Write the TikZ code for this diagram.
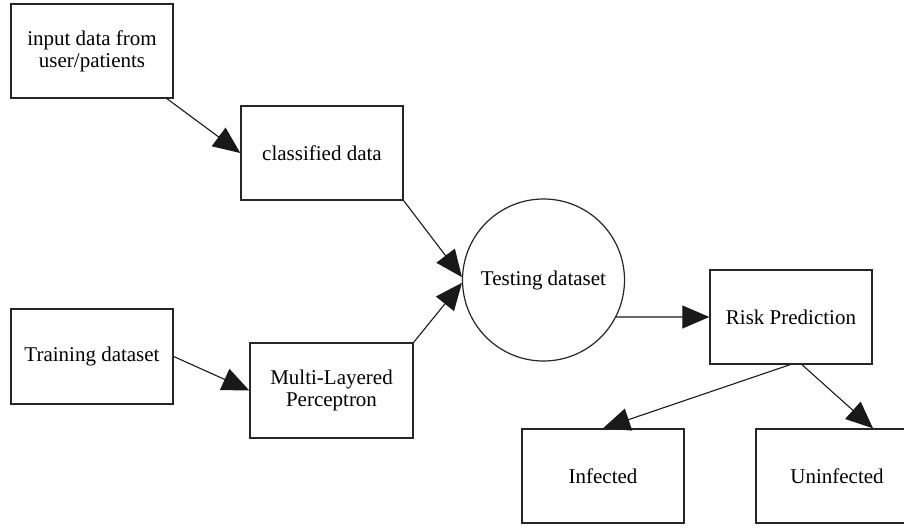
\documentclass[tikz,border=0pt]{standalone}
\usepackage{fontspec}
\setmainfont{Liberation Serif}
\usetikzlibrary{arrows.meta}
\begin{document}
\begin{tikzpicture}[x=1pt,y=-1pt,
  box/.style={draw=black!85, line width=1.4pt, rectangle, minimum width=162pt, minimum height=94pt, inner sep=0pt, align=center, font=\fontsize{21}{22}\selectfont},
  roundbox/.style={draw=black!85, line width=1.2pt, circle, minimum size=162pt, inner sep=0pt, align=center, font=\fontsize{21}{22}\selectfont},
  conn/.style={draw=black!90, line width=1.1pt, -{Triangle[length=27pt, width=23pt]}}]
\clip (0,0) rectangle (904,527);
\useasboundingbox (0,0) rectangle (904,527);
\fill[white] (0,0) rectangle (904,527);
\node[box] (input) at (92,51) {input data from\\user/patients};
\node[box] (classified) at (322,153) {classified data};
\node[roundbox] (testing) at (543.5,280) {Testing dataset};
\node[box, minimum height=95pt] (training) at (92,356.5) {Training dataset};
\node[box, minimum width=163pt, minimum height=95pt] (mlp) at (331.5,390.5) {Multi-Layered\\Perceptron};
\node[box] (risk) at (791,317) {Risk Prediction};
\node[box] (infected) at (603,476) {Infected};
\node[box] (uninfected) at (837,476) {Uninfected};
\draw[conn] ([xshift=75pt]input.south) -- (classified.west);
\draw[conn] (classified.south east) -- (testing.178);
\draw[conn] (training.east) -- (mlp.west);
\draw[conn] (mlp.north east) -- (testing.182);
\draw[conn] (testing.-27) -- (risk.west);
\draw[conn] ([xshift=-1pt]risk.south) -- (infected.north);
\draw[conn] ([xshift=11pt]risk.south) -- ([xshift=36pt]uninfected.north);
\end{tikzpicture}
\end{document}
